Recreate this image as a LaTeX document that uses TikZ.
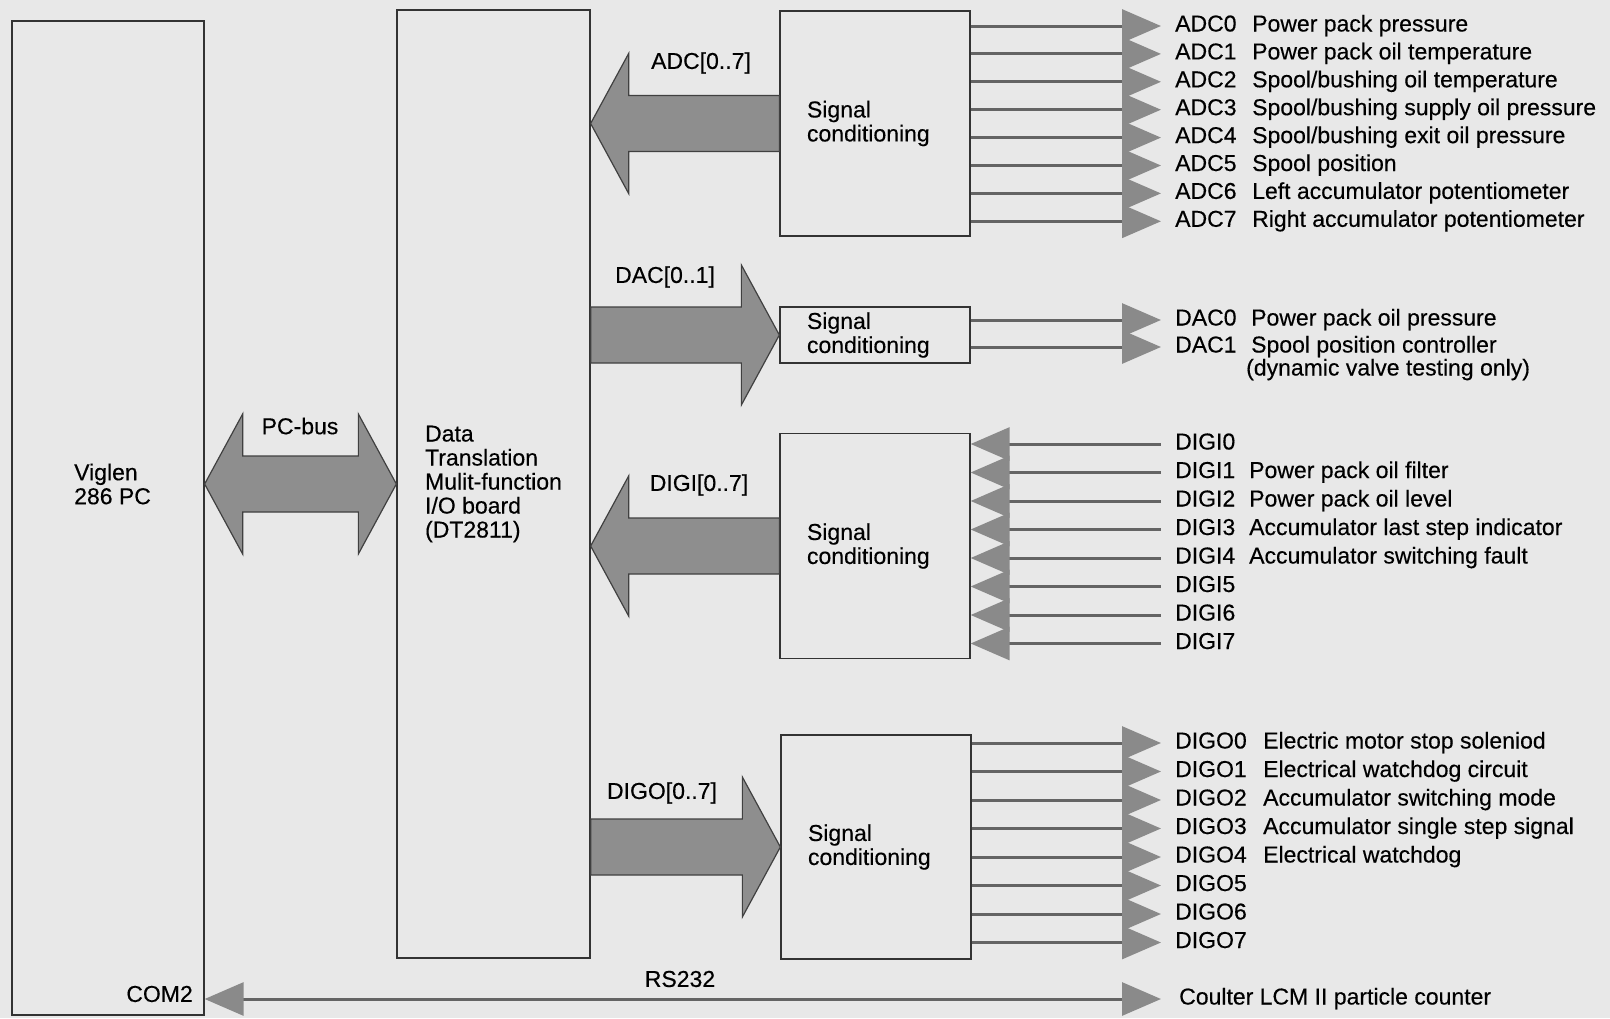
\documentclass[tikz,border=0pt]{standalone}
\usepackage{fontspec}
\setmainfont{Liberation Sans}
\newfontfamily\labelfont[FakeBold=0.35]{Liberation Sans}
\usetikzlibrary{arrows.meta,calc}
\definecolor{paper}{RGB}{232,232,232}
\definecolor{busgray}{RGB}{142,142,142}
\definecolor{siggray}{RGB}{100,100,100}
\definecolor{headgray}{RGB}{138,138,138}
\begin{document}
\begin{tikzpicture}[x=1pt,y=-1pt,every node/.style={font=\labelfont\fontsize{23}{24}\selectfont},
  box/.style={draw=black!80,line width=1.3pt,inner sep=0pt},
  sigbox/.style={box,minimum width=190pt,text width=136pt,align=left},
  bus/.style={draw=black!75,line width=1.2pt,fill=busgray,line join=miter},
  sig/.style={draw=siggray,line width=3pt},
  signame/.style={anchor=west,inner xsep=14pt,inner ysep=0pt,text height=16pt,text depth=5pt},
  sigtext/.style={anchor=west,inner xsep=0pt,inner ysep=0pt,text height=16pt,text depth=5pt},
  >={Triangle[length=39pt,width=33pt,color=headgray]}]
\useasboundingbox (0,0) rectangle (1610,1018);
\fill[paper] (0,0) rectangle (1610,1018);
% main boards
\node[box,minimum width=192pt,minimum height=994pt] (pc) at (108,518) {};
\node[inner sep=0pt,anchor=west,align=left] (pcname) at (74,484) {Viglen\\286 PC};
\node[anchor=east,inner sep=0pt] (com) at (193,994) {COM2};
\node[box,minimum width=193pt,minimum height=948pt,align=left] (dt) at (493.5,484)
  {Data\\Translation\\Mulit-function\\I/O board\\(DT2811)};
% signal conditioning
\node[sigbox,minimum height=225pt] (sc1) at (875,123.5) {Signal\\conditioning};
\node[sigbox,minimum height=56pt] (sc2) at (875,335) {Signal\\conditioning};
\node[sigbox,minimum height=225pt] (sc3) at (875,546) {Signal\\conditioning};
\node[sigbox,minimum height=224pt] (sc4) at (876,847) {Signal\\conditioning};
% buses
\draw[bus] let \p1=(pc.east |- dt.west), \p2=(dt.west) in
  (\p1) -- (\x1+38pt,\y1+70pt) -- (\x1+38pt,\y1+28pt) -- (\x2-38pt,\y2+28pt) -- (\x2-38pt,\y2+70pt)
  -- (\p2) -- (\x2-38pt,\y2-70pt) -- (\x2-38pt,\y2-28pt) -- (\x1+38pt,\y1-28pt) -- (\x1+38pt,\y1-70pt) -- cycle;
\draw[bus] let \p1=(dt.east |- sc1.west), \p2=(sc1.west) in
  (\p1) -- (\x1+38pt,\y1+70pt) -- (\x1+38pt,\y1+28pt) -- (\x2,\y2+28pt)
  -- (\x2,\y2-28pt) -- (\x1+38pt,\y1-28pt) -- (\x1+38pt,\y1-70pt) -- cycle;
\draw[bus] let \p1=(dt.east |- sc2.west), \p2=(sc2.west) in
  (\p2) -- (\x2-38pt,\y2+70pt) -- (\x2-38pt,\y2+28pt) -- (\x1,\y1+28pt)
  -- (\x1,\y1-28pt) -- (\x2-38pt,\y2-28pt) -- (\x2-38pt,\y2-70pt) -- cycle;
\draw[bus] let \p1=(dt.east |- sc3.west), \p2=(sc3.west) in
  (\p1) -- (\x1+38pt,\y1+70pt) -- (\x1+38pt,\y1+28pt) -- (\x2,\y2+28pt)
  -- (\x2,\y2-28pt) -- (\x1+38pt,\y1-28pt) -- (\x1+38pt,\y1-70pt) -- cycle;
\draw[bus] let \p1=(dt.east |- sc4.west), \p2=(sc4.west) in
  (\p2) -- (\x2-38pt,\y2+70pt) -- (\x2-38pt,\y2+28pt) -- (\x1,\y1+28pt)
  -- (\x1,\y1-28pt) -- (\x2-38pt,\y2-28pt) -- (\x2-38pt,\y2-70pt) -- cycle;
\node (pcbus) at (300,426) {PC-bus};
\node (adcbus) at (701,63) {ADC[0..7]};
\node (dacbus) at (665,277) {DAC[0..1]};
\node (digibus) at (699,485) {DIGI[0..7]};
\node (digobus) at (662,793) {DIGO[0..7]};
% analogue inputs
\foreach \i/\desc in {0/Power pack pressure,1/Power pack oil temperature,
  2/{Spool/bushing oil temperature},3/{Spool/bushing supply oil pressure},
  4/{Spool/bushing exit oil pressure},5/Spool position,
  6/Left accumulator potentiometer,7/Right accumulator potentiometer}{
  \node[signame] (adc\i) at (1161,{26+27.9*\i}) {ADC\i};
  \node[sigtext] (adcd\i) at (1252,{26+27.9*\i}) {\desc};
  \draw[sig,->] (sc1.east |- adc\i.west) -- (adc\i.west);
}
% analogue outputs
\node[signame] (dac0) at (1161,320) {DAC0};
\node[sigtext] (dacd0) at (1251,320) {Power pack oil pressure};
\node[signame] (dac1) at (1161,347) {DAC1};
\node[sigtext] (dacd1) at (1251,347) {Spool position controller};
\node[sigtext] (dacnote) at (1246,370) {(dynamic valve testing only)};
\draw[sig,->] (sc2.east |- dac0.west) -- (dac0.west);
\draw[sig,->] (sc2.east |- dac1.west) -- (dac1.west);
% digital inputs
\foreach \i in {0,...,7}{
  \node[signame] (digi\i) at (1161,{444+28.5*\i}) {DIGI\i};
  \draw[sig,<-] (sc3.east |- digi\i.west) -- (digi\i.west);
}
\foreach \i/\desc in {1/Power pack oil filter,2/Power pack oil level,
  3/Accumulator last step indicator,4/Accumulator switching fault}
  \node[sigtext] (digid\i) at (1249,{444+28.5*\i}) {\desc};
% digital outputs
\foreach \i in {0,...,7}{
  \node[signame] (digo\i) at (1161,{743+28.5*\i}) {DIGO\i};
  \draw[sig,->] (sc4.east |- digo\i.west) -- (digo\i.west);
}
\foreach \i/\desc in {0/Electric motor stop soleniod,1/Electrical watchdog circuit,
  2/Accumulator switching mode,3/Accumulator single step signal,4/Electrical watchdog}
  \node[sigtext] (digod\i) at (1263,{743+28.5*\i}) {\desc};
% serial link
\node[signame,inner xsep=18pt] (coulter) at (1161,999) {Coulter LCM II particle counter};
\node (rs) at (680,979) {RS232};
\draw[sig,<->] (pc.east |- coulter.west) -- (coulter.west);
\end{tikzpicture}
\end{document}
